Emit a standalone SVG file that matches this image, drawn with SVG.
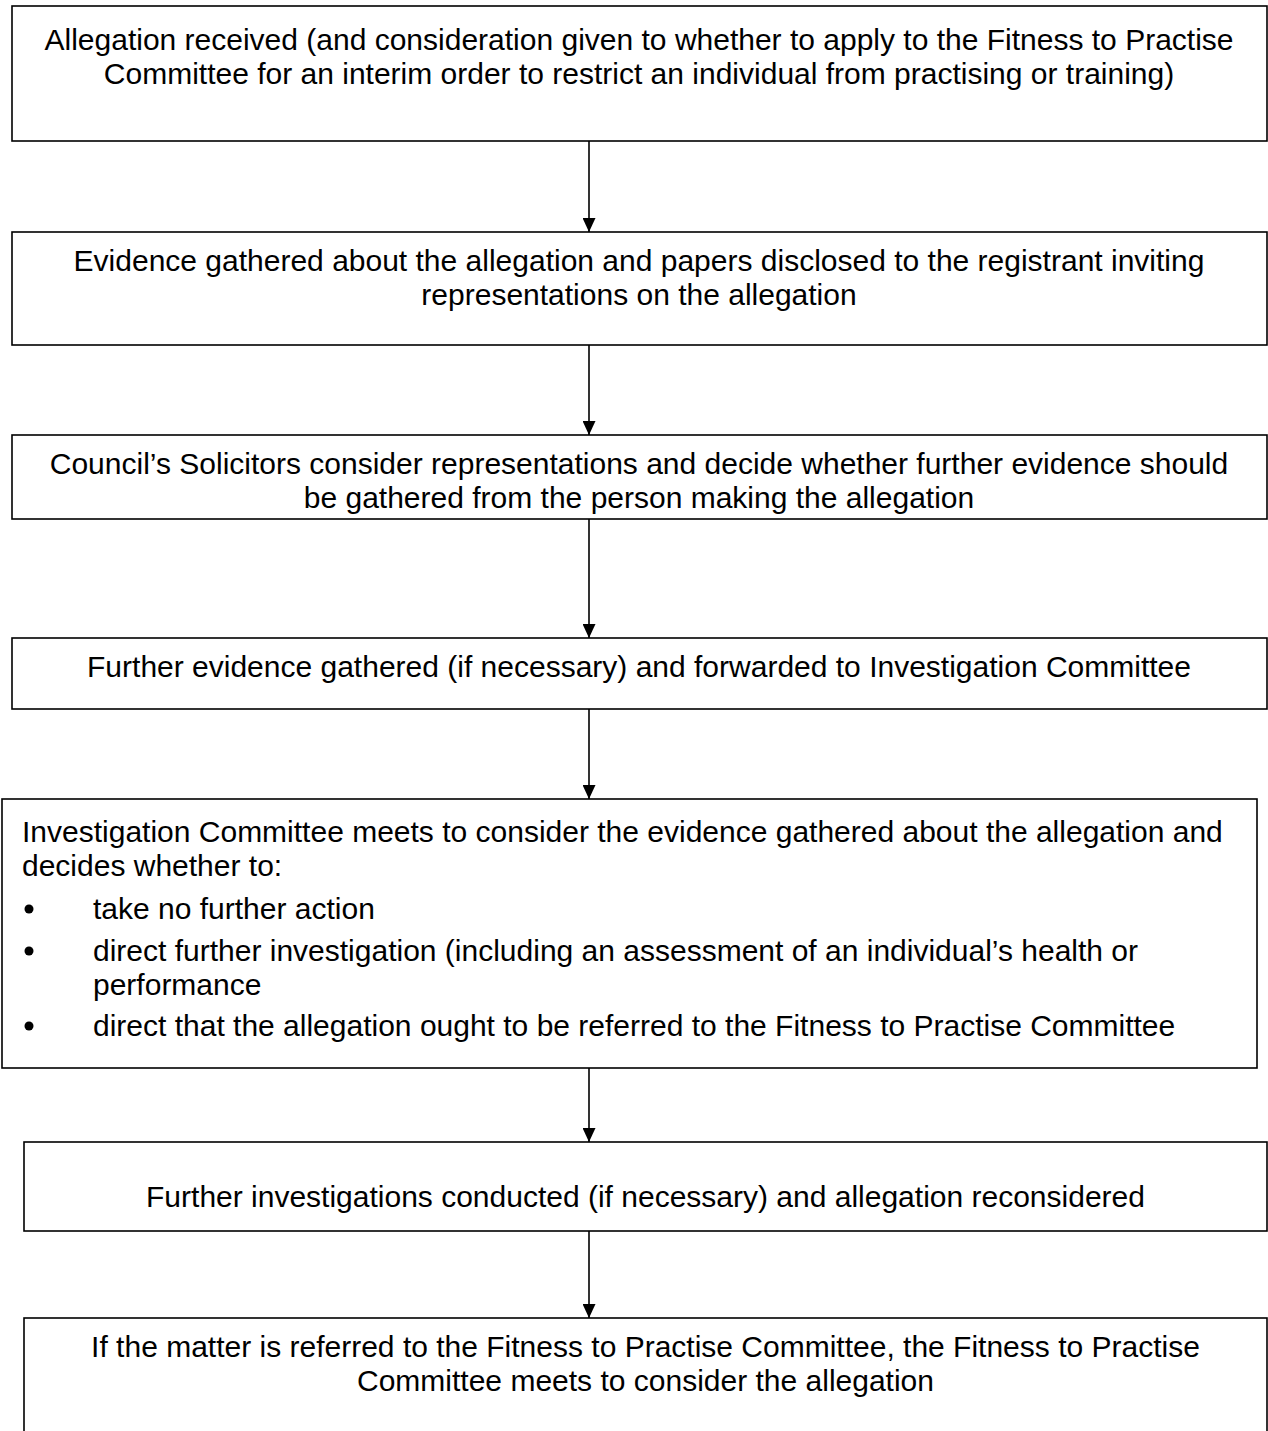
<svg xmlns="http://www.w3.org/2000/svg" width="1268" height="1431" viewBox="0 0 1268 1431">
<style>
.box{fill:#fff;stroke:#000;stroke-width:1.6}
text{font-family:"Liberation Sans",Arial,sans-serif;font-size:30px;fill:#000}
.c{text-anchor:middle}
.conn{stroke:#000;stroke-width:1.6;fill:none}
</style>
<defs>
<marker id="ah" markerWidth="14" markerHeight="13" refX="14" refY="6.5" orient="auto" markerUnits="userSpaceOnUse">
<path d="M0,0 L14,6.5 L0,13 Z" fill="#000"/>
</marker>
</defs>
<rect width="1268" height="1431" fill="#fff"/>
<g id="n1">
<rect class="box" x="12" y="6" width="1255" height="135"/>
<text class="c" x="639" y="50">Allegation received (and consideration given to whether to apply to the Fitness to Practise</text>
<text class="c" x="639" y="84">Committee for an interim order to restrict an individual from practising or training)</text>
</g>
<g id="n2">
<rect class="box" x="12" y="232" width="1255" height="113"/>
<text class="c" x="639" y="271">Evidence gathered about the allegation and papers disclosed to the registrant inviting</text>
<text class="c" x="639" y="305">representations on the allegation</text>
</g>
<g id="n3">
<rect class="box" x="12" y="435" width="1255" height="84"/>
<text class="c" x="639" y="474">Council’s Solicitors consider representations and decide whether further evidence should</text>
<text class="c" x="639" y="508">be gathered from the person making the allegation</text>
</g>
<g id="n4">
<rect class="box" x="12" y="638" width="1255" height="71"/>
<text class="c" x="639" y="677">Further evidence gathered (if necessary) and forwarded to Investigation Committee</text>
</g>
<g id="n5">
<rect class="box" x="2" y="799" width="1255" height="269"/>
<text x="22" y="842">Investigation Committee meets to consider the evidence gathered about the allegation and</text>
<text x="22" y="876">decides whether to:</text>
<circle cx="29" cy="909" r="4.5"/>
<text x="93" y="919">take no further action</text>
<circle cx="29" cy="951" r="4.5"/>
<text x="93" y="961">direct further investigation (including an assessment of an individual’s health or</text>
<text x="93" y="995">performance</text>
<circle cx="29" cy="1026" r="4.5"/>
<text x="93" y="1036">direct that the allegation ought to be referred to the Fitness to Practise Committee</text>
</g>
<g id="n6">
<rect class="box" x="24" y="1142" width="1243" height="89"/>
<text class="c" x="645.5" y="1207">Further investigations conducted (if necessary) and allegation reconsidered</text>
</g>
<g id="n7">
<rect class="box" x="24" y="1318" width="1243" height="130"/>
<text class="c" x="645.5" y="1357">If the matter is referred to the Fitness to Practise Committee, the Fitness to Practise</text>
<text class="c" x="645.5" y="1391">Committee meets to consider the allegation</text>
</g>
<g id="connectors">
<line class="conn" x1="589" y1="141" x2="589" y2="232" marker-end="url(#ah)"/>
<line class="conn" x1="589" y1="345" x2="589" y2="435" marker-end="url(#ah)"/>
<line class="conn" x1="589" y1="519" x2="589" y2="638" marker-end="url(#ah)"/>
<line class="conn" x1="589" y1="709" x2="589" y2="799" marker-end="url(#ah)"/>
<line class="conn" x1="589" y1="1068" x2="589" y2="1142" marker-end="url(#ah)"/>
<line class="conn" x1="589" y1="1231" x2="589" y2="1318" marker-end="url(#ah)"/>
</g>
</svg>
